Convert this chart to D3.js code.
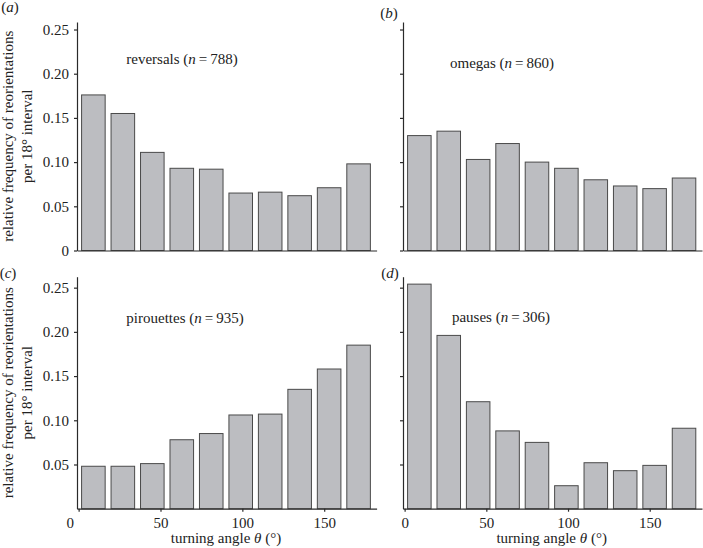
<!DOCTYPE html>
<html>
<head>
<meta charset="utf-8">
<script src="https://cdn.jsdelivr.net/npm/d3@7"></script>
<style>
  html, body { margin: 0; padding: 0; background: #fff; }
  svg { display: block; }
  text { font-family: "Liberation Serif", "DejaVu Serif", serif; fill: #222; }
</style>
</head>
<body>
<svg id="chart" width="703" height="548"></svg>
<script>
// ---- data ----
const binStarts = [0, 18, 36, 54, 72, 90, 108, 126, 144, 162];   // 18° bins
const binWidth = 18;
const reversals  = [0.176, 0.155, 0.111, 0.093, 0.092, 0.065, 0.066, 0.062, 0.071, 0.098];
const omegas     = [0.130, 0.135, 0.103, 0.121, 0.100, 0.093, 0.080, 0.073, 0.070, 0.082];
const pirouettes = [0.048, 0.048, 0.051, 0.078, 0.085, 0.106, 0.107, 0.135, 0.158, 0.185];
const pauses     = [0.254, 0.196, 0.121, 0.088, 0.075, 0.026, 0.052, 0.043, 0.049, 0.091];
const panelLetters = ["a", "b", "c", "d"];
const behaviourNames = ["reversals", "omegas", "pirouettes", "pauses"];
const sampleSizes = [788, 860, 935, 306];
const yTickValues = [0, 0.05, 0.10, 0.15, 0.20, 0.25];
const xTickValues = [0, 50, 100, 150];
const yLabelLines = ["relative frequency of reorientations", "per 18° interval"];
const xLabel = "turning angle ";

// ---- layout ----
const seriesList = [reversals, omegas, pirouettes, pauses];
const svg = d3.select("#chart");
const colX = [[77, 376.6], [403, 702]];
const rowY = [{range: [250.5, 22], top: 0.2585}, {range: [508.7, 276.7], top: 0.2624}];
const panelLabelPos = [[10, 9], [389, 15], [8, 275], [390, 275]];
const titlePos = [[182, 61], [502, 65], [185, 320], [501, 319]];
const fontSize = 15;

seriesList.forEach((vals, i) => {
  const col = i % 2, row = Math.floor(i / 2);
  const x = d3.scaleLinear().domain([-1, 182]).range(colX[col]);
  const y = d3.scaleLinear().domain([0, rowY[row].top]).range(rowY[row].range);
  const g = svg.append("g");

  // bars
  g.selectAll("rect").data(binStarts.map((s, k) => ({s, v: vals[k]})))
    .enter().append("rect")
    .attr("x", d => x(d.s + 1.8))
    .attr("width", d => x(d.s + binWidth - 1.8) - x(d.s + 1.8))
    .attr("y", d => y(d.v))
    .attr("height", d => y(0) - y(d.v))
    .attr("fill", "#bcbdc1")
    .attr("stroke", "#4a4a4a")
    .attr("stroke-width", 1);

  // y axis
  const yAxis = d3.axisLeft(y).tickValues(row === 0 ? yTickValues : yTickValues.slice(1))
    .tickSize(3).tickSizeOuter(0).tickPadding(5)
    .tickFormat(col === 0 ? (d => d === 0 ? "0" : d3.format(".2f")(d)) : () => "");
  const ya = g.append("g").attr("transform", `translate(${x(-1)},0)`).call(yAxis);

  // x axis
  const xAxis = d3.axisBottom(x).tickValues(row === 1 ? xTickValues : [])
    .tickSize(3).tickSizeOuter(0).tickPadding(6)
    .tickFormat(d3.format("d"));
  const xa = g.append("g").attr("transform", `translate(0,${y(0)})`).call(xAxis);

  [ya, xa].forEach(a => {
    a.selectAll("path, line").attr("stroke", "#2a2a2a").attr("stroke-width", 1.2);
    a.selectAll("text").style("font-family", '"Liberation Serif", serif')
      .style("font-size", fontSize + "px").attr("fill", "#222");
  });
  if (row === 1 && col === 0) {
    xa.selectAll(".tick").filter(d => d === 0).select("text").attr("dx", -9);
  }

  // panel letter
  const pl = g.append("text").attr("x", panelLabelPos[i][0]).attr("y", panelLabelPos[i][1])
    .attr("text-anchor", "middle").attr("dominant-baseline", "middle")
    .style("font-size", fontSize + "px");
  pl.append("tspan").text("(");
  pl.append("tspan").attr("font-style", "italic").text(panelLetters[i]);
  pl.append("tspan").text(")");

  // title
  const t = g.append("text").attr("x", titlePos[i][0]).attr("y", titlePos[i][1])
    .attr("text-anchor", "middle").attr("dominant-baseline", "middle")
    .style("font-size", fontSize + "px");
  t.append("tspan").text(behaviourNames[i] + " (");
  t.append("tspan").attr("font-style", "italic").text("n");
  t.append("tspan").text("\u2009=\u2009" + sampleSizes[i] + ")");

  // y label
  if (col === 0) {
    const cy = (rowY[row].range[0] + rowY[row].range[1]) / 2;
    yLabelLines.forEach((ln, k) => {
      g.append("text")
        .attr("transform", `translate(${10 + k * 19},${cy}) rotate(-90)`)
        .attr("text-anchor", "middle").attr("dominant-baseline", "middle")
        .style("font-size", fontSize + "px").text(ln);
    });
  }

  // x label
  if (row === 1) {
    const cx = (x(0) + x(180)) / 2;
    const xl = g.append("text").attr("x", cx).attr("y", 540)
      .attr("text-anchor", "middle").attr("dominant-baseline", "middle")
      .style("font-size", fontSize + "px");
    xl.append("tspan").text(xLabel);
    xl.append("tspan").attr("font-style", "italic").text("θ");
    xl.append("tspan").text(" (°)");
  }
});
</script>
</body>
</html>
